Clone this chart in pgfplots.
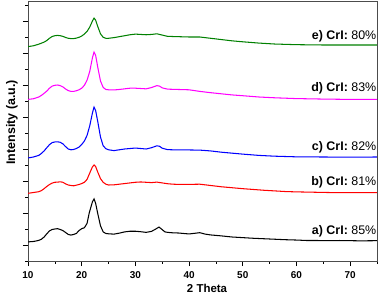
\documentclass[border=0pt]{standalone}
\usepackage{fontspec}
\setmainfont{Liberation Sans}
\usepackage{pgfplots}
\pgfplotsset{compat=1.18}
\definecolor{cgreen}{RGB}{0,128,0}
\definecolor{cmag}{RGB}{255,0,255}
\begin{document}
\begin{tikzpicture}
\begin{axis}[
  scale only axis, width=349bp, height=260bp,
  xmin=10, xmax=75, ymin=0, ymax=16.25,
  xtick={10,20,...,70}, minor xtick={15,25,...,75},
  ytick={1,3,...,15}, minor ytick={0,2,...,16},
  yticklabels={},
  tick align=outside, tick pos=left,
  major tick length=5bp, minor tick length=2.5bp,
  axis line style={gray!60!black},
  every tick/.style={black, line width=0.6bp},
  /pgf/number format/assume math mode=true,
  xticklabel style={font=\fontsize{10}{12}\selectfont\bfseries, yshift=-2bp},
  xlabel={2 Theta}, ylabel={Intensity (a.u.)},
  xlabel style={font=\fontsize{11.5}{13}\selectfont\bfseries, at={(axis description cs:0.513,0)}, yshift=-27.7bp, anchor=center},
  ylabel style={font=\fontsize{12.5}{14}\selectfont\bfseries, at={(axis description cs:0,0.533)}, yshift=16bp, anchor=center},
  every axis plot/.append style={line width=1.05bp, no markers},
]
\addplot[black] coordinates {(10,1.19)(10.5,1.21)(11,1.22)(11.5,1.25)(12,1.29)(12.5,1.36)(13,1.5)(13.5,1.7)(14,1.88)(14.5,1.97)(15,2.0)(15.5,2.02)(16,1.97)(16.5,1.9)(17,1.78)(17.5,1.66)(18,1.62)(18.5,1.66)(19,1.72)(19.5,1.9)(20,2.02)(20.5,2.08)(21,2.35)(21.4,3.0)(22,3.7)(22.3,3.88)(22.6,3.6)(23,2.95)(23.5,2.2)(24,1.82)(24.5,1.72)(25,1.7)(26,1.68)(27,1.74)(28,1.82)(29,1.86)(30,1.86)(31,1.83)(32,1.79)(33,1.85)(33.8,2.0)(34.4,2.12)(35,1.96)(35.5,1.82)(36,1.79)(37,1.76)(38,1.75)(39,1.72)(40,1.69)(41,1.73)(42,1.77)(43,1.68)(44,1.63)(46,1.57)(48,1.5)(50,1.46)(52,1.42)(54,1.39)(56,1.36)(58,1.33)(60,1.31)(62,1.28)(64,1.28)(66,1.27)(68,1.28)(70,1.27)(72,1.26)(75,1.27)};
\addplot[red] coordinates {(10,4.23)(11,4.28)(12,4.33)(12.5,4.4)(13,4.52)(13.5,4.66)(14,4.78)(14.5,4.87)(15,4.92)(15.5,4.93)(16,4.95)(16.5,4.92)(17,4.82)(17.5,4.75)(18,4.72)(18.5,4.7)(19,4.74)(19.5,4.78)(20,4.84)(20.5,4.92)(21,5.1)(21.5,5.5)(22,5.88)(22.3,6.0)(22.6,5.9)(23,5.55)(23.5,5.15)(24,4.92)(24.5,4.8)(25,4.75)(26,4.76)(27,4.8)(28,4.84)(29,4.88)(30,4.92)(31,4.94)(32,4.92)(33,4.9)(34,4.93)(35,4.88)(36,4.83)(37,4.8)(38,4.79)(40,4.79)(42,4.8)(44,4.72)(46,4.64)(48,4.58)(50,4.52)(52,4.47)(54,4.42)(56,4.38)(58,4.34)(60,4.32)(63,4.3)(66,4.28)(70,4.27)(75,4.27)};
\addplot[blue] coordinates {(10,6.44)(11,6.5)(12,6.6)(12.5,6.72)(13,6.88)(13.5,7.08)(14,7.27)(14.5,7.4)(15,7.44)(15.5,7.45)(16,7.42)(16.5,7.32)(17,7.15)(17.5,7.0)(18,6.95)(18.5,6.97)(19,7.03)(19.5,7.12)(20,7.28)(20.5,7.5)(21,7.85)(21.5,8.45)(22,9.25)(22.3,9.62)(22.6,9.4)(23,8.7)(23.5,7.75)(24,7.2)(24.5,7.02)(25,6.95)(26,6.9)(27,6.95)(28,7.0)(29,7.03)(30,7.06)(31,7.03)(32,7.0)(33,7.08)(34,7.2)(34.5,7.17)(35,7.05)(36,6.96)(38,6.94)(40,6.94)(42,6.93)(44,6.88)(46,6.8)(48,6.74)(50,6.68)(53,6.6)(56,6.55)(60,6.51)(65,6.5)(70,6.49)(75,6.5)};
\addplot[cmag] coordinates {(10,10.1)(11,10.14)(12,10.25)(12.5,10.35)(13,10.48)(13.5,10.62)(14,10.8)(14.5,10.93)(15,10.98)(15.5,11.0)(16,10.96)(16.5,10.88)(17,10.75)(17.5,10.65)(18,10.6)(18.5,10.6)(19,10.64)(19.5,10.7)(20,10.8)(20.5,10.98)(21,11.3)(21.5,11.85)(22,12.7)(22.3,13.06)(22.6,12.85)(23,12.1)(23.5,11.25)(24,10.85)(24.5,10.72)(25,10.7)(26,10.69)(27,10.72)(28,10.76)(29,10.8)(30,10.8)(31,10.78)(32,10.76)(33,10.84)(34,10.96)(34.5,10.93)(35,10.82)(36,10.74)(38,10.72)(40,10.7)(42,10.6)(44,10.52)(46,10.45)(48,10.38)(50,10.33)(53,10.25)(56,10.2)(60,10.15)(65,10.12)(70,10.1)(75,10.1)};
\addplot[cgreen] coordinates {(10,13.4)(11,13.45)(12,13.55)(13,13.68)(13.5,13.78)(14,13.92)(14.5,14.03)(15,14.08)(15.5,14.1)(16,14.08)(16.5,14.04)(17,13.97)(17.5,13.92)(18,13.9)(18.5,13.9)(19,13.93)(19.5,13.98)(20,14.06)(20.5,14.18)(21,14.35)(21.5,14.62)(22,15.0)(22.3,15.18)(22.6,15.05)(23,14.65)(23.5,14.2)(24,13.98)(24.5,13.92)(25,13.92)(26,13.96)(27,14.02)(28,14.08)(29,14.14)(30,14.18)(31,14.16)(32,14.14)(33,14.16)(34,14.2)(35,14.12)(36,14.04)(38,14.02)(40,14.0)(42,14.0)(44,13.92)(46,13.84)(48,13.76)(50,13.7)(53,13.62)(56,13.56)(60,13.52)(65,13.5)(70,13.5)(75,13.5)};
\begin{scope}[every node/.style={anchor=east, inner sep=0.5bp, font=\fontsize{12.5}{14}\selectfont}]
\node at (axis cs:75,1.87) {\textbf{a) CrI:} 85\%};
\node at (axis cs:75,4.9) {\textbf{b) CrI:} 81\%};
\node at (axis cs:75,7.08) {\textbf{c) CrI:} 82\%};
\node at (axis cs:75,10.77) {\textbf{d) CrI:} 83\%};
\node at (axis cs:75,14.06) {\textbf{e) CrI:} 80\%};
\end{scope}
\end{axis}
\pgfresetboundingbox
\path (-28bp,-34bp) rectangle (352bp,261bp);
\end{tikzpicture}
\end{document}
